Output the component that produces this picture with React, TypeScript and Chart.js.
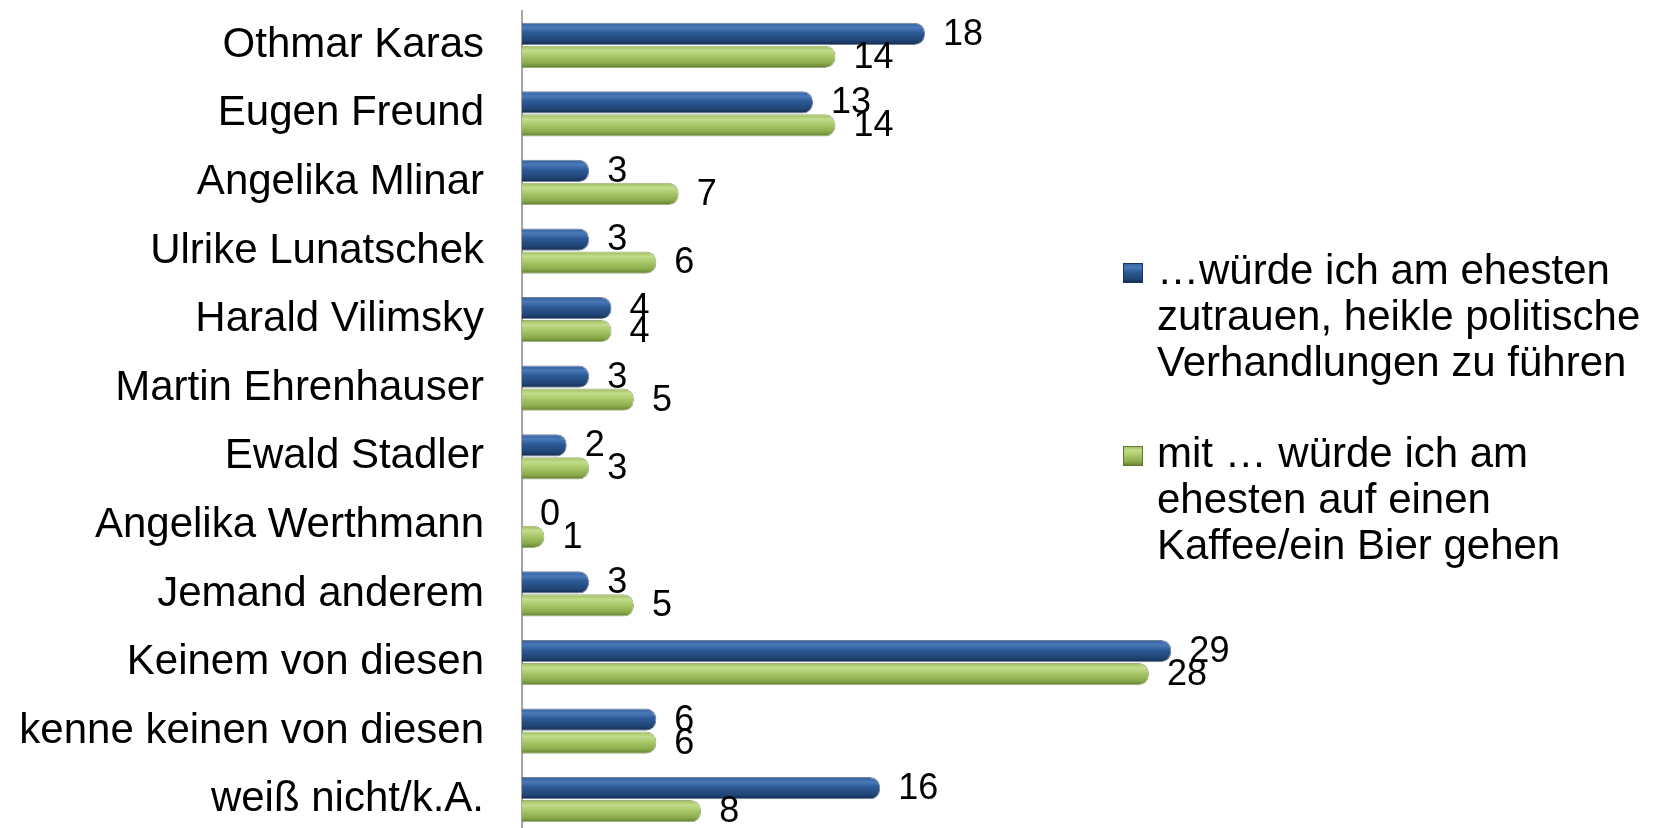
import React, { useEffect, useRef } from 'react';
import { Chart, registerables } from 'chart.js';

Chart.register(...registerables);

const categories = [
  'Othmar Karas',
  'Eugen Freund',
  'Angelika Mlinar',
  'Ulrike Lunatschek',
  'Harald Vilimsky',
  'Martin Ehrenhauser',
  'Ewald Stadler',
  'Angelika Werthmann',
  'Jemand anderem',
  'Keinem von diesen',
  'kenne keinen von diesen',
  'weiß nicht/k.A.',
];
const seriesNegotiate = [18, 13, 3, 3, 4, 3, 2, 0, 3, 29, 6, 16];
const seriesCoffee = [14, 14, 7, 6, 4, 5, 3, 1, 5, 28, 6, 8];
const legendNegotiate = ['…würde ich am ehesten', 'zutrauen, heikle politische', 'Verhandlungen zu führen'];
const legendCoffee = ['mit … würde ich am', 'ehesten auf einen', 'Kaffee/ein Bier gehen'];

const FONT = '"Liberation Sans", Arial, sans-serif';

const blueStops: [number, string][] = [
  [0, '#335F9C'],
  [0.22, '#4A79B8'],
  [0.45, '#2D5A97'],
  [0.78, '#214677'],
  [1, '#132B4E'],
];
const greenStops: [number, string][] = [
  [0, '#9BBB5A'],
  [0.22, '#C2DC8B'],
  [0.48, '#A8C868'],
  [0.8, '#8AA94B'],
  [1, '#5E7A2B'],
];

function grad(ctx: CanvasRenderingContext2D, top: number, bottom: number, stops: [number, string][]) {
  const g = ctx.createLinearGradient(0, top, 0, bottom);
  stops.forEach(([o, c]) => g.addColorStop(o, c));
  return g;
}

const glossPlugin = {
  id: 'gloss',
  beforeDatasetsDraw(chart: any) {
    const ctx = chart.ctx;
    chart.data.datasets.forEach((ds: any, di: number) => {
      const meta = chart.getDatasetMeta(di);
      const stops = di === 0 ? blueStops : greenStops;
      meta.data.forEach((el: any) => {
        const { y, height } = el.getProps(['y', 'height'], true);
        el.options = Object.assign({}, el.options, {
          backgroundColor: grad(ctx, y - height / 2, y + height / 2, stops),
        });
      });
    });
  },
};

const valueLabelPlugin = {
  id: 'valueLabels',
  afterDatasetsDraw(chart: any) {
    const ctx = chart.ctx;
    ctx.save();
    ctx.font = `36px ${FONT}`;
    ctx.fillStyle = '#000000';
    ctx.textAlign = 'left';
    ctx.textBaseline = 'middle';
    chart.data.datasets.forEach((ds: any, di: number) => {
      const meta = chart.getDatasetMeta(di);
      meta.data.forEach((el: any, i: number) => {
        const { x, y } = el.getProps(['x', 'y'], true);
        ctx.fillText(String(ds.data[i]), x + 18, y + 1);
      });
    });
    ctx.restore();
  },
};

const legendPlugin = {
  id: 'customLegend',
  afterDraw(chart: any) {
    const ctx = chart.ctx;
    ctx.save();
    const items = [
      { lines: legendNegotiate, stops: blueStops, border: '#17375E', top: 272 },
      { lines: legendCoffee, stops: greenStops, border: '#5F7A2E', top: 455 },
    ];
    items.forEach((it) => {
      const sx = 1123;
      const sy = it.top - 9;
      const s = 20;
      ctx.fillStyle = grad(ctx, sy, sy + s, it.stops);
      ctx.fillRect(sx, sy, s, s);
      ctx.lineWidth = 1;
      ctx.strokeStyle = it.border;
      ctx.strokeRect(sx + 0.5, sy + 0.5, s - 1, s - 1);
      ctx.font = `42px ${FONT}`;
      ctx.fillStyle = '#000000';
      ctx.textAlign = 'left';
      ctx.textBaseline = 'middle';
      it.lines.forEach((ln, k) => {
        ctx.fillText(ln, 1157, it.top + k * 46);
      });
    });
    ctx.restore();
  },
};

export default function App() {
  const ref = useRef<HTMLCanvasElement | null>(null);

  useEffect(() => {
    document.body.style.margin = '0';
    const canvas = ref.current;
    if (!canvas) return;
    const chart = new Chart(canvas, {
      type: 'bar',
      data: {
        labels: categories,
        datasets: [
          {
            label: legendNegotiate.join(' '),
            data: seriesNegotiate,
            backgroundColor: '#2A5694',
            borderWidth: 1,
            borderColor: 'rgba(20,45,80,0.6)',
            borderRadius: 10,
            borderSkipped: 'start',
            categoryPercentage: 0.67,
            barPercentage: 0.97,
          },
          {
            label: legendCoffee.join(' '),
            data: seriesCoffee,
            backgroundColor: '#A4C263',
            borderWidth: 1,
            borderColor: 'rgba(95,122,46,0.6)',
            borderRadius: 10,
            borderSkipped: 'start',
            categoryPercentage: 0.67,
            barPercentage: 0.97,
          },
        ],
      },
      options: {
        indexAxis: 'y',
        responsive: false,
        animation: false,
        layout: { padding: { top: 11, right: 0, bottom: 0, left: 0 } },
        plugins: {
          legend: { display: false },
          tooltip: { enabled: false },
        },
        scales: {
          x: {
            display: false,
            min: 0,
            max: 51,
          },
          y: {
            type: 'category',
            grid: { display: false, drawTicks: false },
            border: { display: true, color: '#A6A6A6', width: 2 },
            ticks: {
              autoSkip: false,
              color: '#000000',
              padding: 38,
              font: { family: FONT, size: 42 },
            },
            afterFit: (scale: any) => {
              scale.width = 522;
              scale.paddingTop = 0;
              scale.paddingBottom = 0;
            },
          },
        },
      },
      plugins: [glossPlugin, valueLabelPlugin, legendPlugin],
    });
    return () => chart.destroy();
  }, []);

  return (
    <div style={{ width: 1664, height: 828, position: 'relative', background: '#ffffff', overflow: 'hidden' }}>
      <canvas ref={ref} width={1664} height={834} style={{ display: 'block', width: 1664, height: 834 }} />
    </div>
  );
}
